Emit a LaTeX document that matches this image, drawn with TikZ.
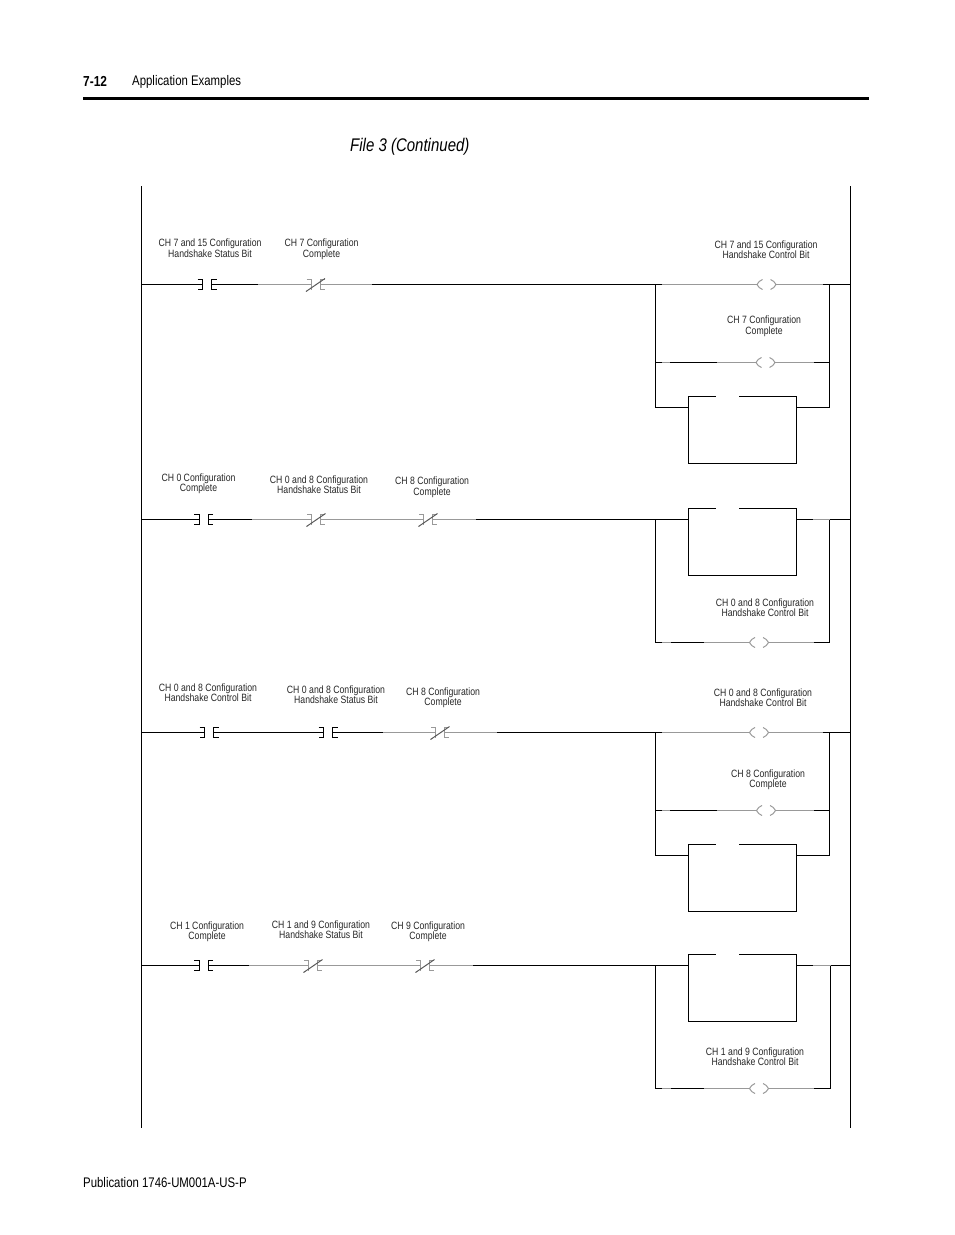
\documentclass[tikz,border=0pt]{standalone}
\usepackage{fontspec}
\setmainfont[FakeStretch=0.82]{Liberation Sans}
\usepackage{tikz}
\usetikzlibrary{positioning}
\definecolor{faint}{gray}{0.6}
\definecolor{midgrey}{gray}{0.35}
\tikzset{
  wire/.style={draw=black,line width=1pt},
  gwire/.style={draw=faint,line width=1pt},
  lbl/.style={align=center,inner sep=0pt,text=black!85,font=\fontsize{10.6}{10.5}\selectfont},
  nocontact/.pic={
    \coordinate (-in) at (-4.5,0);
    \coordinate (-out) at (4.5,0);
    \draw[wire] (-9.5,-5) -- (-4.5,-5) -- (-4.5,5) -- (-9.5,5);
    \draw[wire] (9.5,-5) -- (4.5,-5) -- (4.5,5) -- (9.5,5);
  },
  nccontact/.pic={
    \coordinate (-in) at (-4.5,0);
    \coordinate (-out) at (4.5,0);
    \draw[gwire] (-9,-5) -- (-4.5,-5) -- (-4.5,5) (9,-5) -- (4.5,-5) -- (4.5,5) -- (9,5);
    \draw[midgrey,line width=1pt] (-9.5,7) -- (9.5,-6);
  },
  coil/.pic={
    \coordinate (-in) at (-9.5,0);
    \coordinate (-out) at (9.5,0);
    \draw[gwire] (-4,-5) to[bend right=20] (-9.5,0) to[bend right=20] (-4,5);
    \draw[gwire] (4,-5) to[bend left=20] (9.5,0) to[bend left=20] (4,5);
  },
  funcbox/.pic={
    \coordinate (-in) at (-54,11);
    \coordinate (-out) at (54,11);
    \draw[wire] (-27,0) -- (-54,0) -- (-54,67) -- (54,67) -- (54,0) -- (-4,0);
  }
}
\begin{document}
\begin{tikzpicture}[x=1pt,y=-1pt]
  \useasboundingbox (0,0) rectangle (954,1235);
  % page head and foot
  \coordinate (headl) at (83,98);
  \coordinate (headr) at (869,98);
  \draw[line width=3pt] (headl) -- (headr);
  \node[inner sep=0pt,anchor=west,font=\fontsize{14.5}{15}\selectfont\bfseries] (pagenum) at (83,81) {7-12};
  \node[inner sep=0pt,anchor=west,font=\fontsize{13.9}{15}\selectfont] (chapter) at (132,81.5) {Application Examples};
  \node[inner sep=0pt,anchor=west,font=\fontsize{18.3}{20}\selectfont\itshape] (filetitle) at (350,146.5) {File 3 (Continued)};
  \node[inner sep=0pt,anchor=west,font=\fontsize{13.9}{15}\selectfont] (pubno) at (83,1182.5) {Publication 1746-UM001A-US-P};
  % rails
  \coordinate (ltop) at (141.5,186);
  \coordinate (lbot) at (141.5,1128);
  \coordinate (rtop) at (850.5,186);
  \coordinate (rbot) at (850.5,1128);
  \draw[wire] (ltop) -- (lbot);
  \draw[wire] (rtop) -- (rbot);

  % first rung
  \coordinate (l1) at (141.5,284.5);
  \coordinate (r1) at (850.5,284.5);
  \pic (c1a) at (207,284.5) {nocontact};
  \pic (c1b) at (315.5,284.5) {nccontact};
  \pic (q1a) at (766.5,284.5) {coil};
  \pic (q1b) at (765.5,362.5) {coil};
  \pic (b1) at (742.5,396.5) {funcbox};
  \coordinate (m1a) at (258,284.5);
  \coordinate (m1b) at (372,284.5);
  \coordinate (m1c) at (662,284.5);
  \coordinate (m1d) at (823,284.5);
  \coordinate (j1a) at (655.5,284.5);
  \coordinate (j1b) at (829.5,284.5);
  \coordinate (j1c) at (655.5,362.5);
  \coordinate (j1d) at (829.5,362.5);
  \coordinate (j1e) at (655.5,407.5);
  \coordinate (j1f) at (829.5,407.5);
  \coordinate (n1a) at (662,362.5);
  \coordinate (n1b) at (670,362.5);
  \coordinate (n1c) at (717,362.5);
  \coordinate (n1d) at (814,362.5);
  \draw[wire] (l1) -- (c1a-in) (c1a-out) -- (m1a) (m1b) -- (m1c) (m1d) -- (r1);
  \draw[gwire] (m1a) -- (c1b-in) (c1b-out) -- (m1b) (m1c) -- (q1a-in) (q1a-out) -- (m1d);
  \draw[wire] (j1a) -- (j1e) -- (b1-in) (j1b) -- (j1f) -- (b1-out);
  \draw[wire] (j1c) -- (n1a) (n1b) -- (n1c) (n1d) -- (j1d);
  \draw[gwire] (n1a) -- (n1b) (n1c) -- (q1b-in) (q1b-out) -- (n1d);
  \node[lbl] (t1a) at (210,248) {CH 7 and 15 Configuration\\Handshake Status Bit};
  \node[lbl] (t1b) at (321.5,249.5) {CH 7 Configuration\\Complete};
  \node[lbl] (t1c) at (766,249.5) {CH 7 and 15 Configuration\\Handshake Control Bit};
  \node[lbl] (t1d) at (764,326.5) {CH 7 Configuration\\Complete};

  % second rung
  \coordinate (l2) at (141.5,519.5);
  \coordinate (r2) at (850.5,519.5);
  \pic (c2a) at (203.5,519.5) {nocontact};
  \pic (c2b) at (316,519.5) {nccontact};
  \pic (c2c) at (428,519.5) {nccontact};
  \pic (b2) at (742.5,508.5) {funcbox};
  \pic (q2a) at (759,642.5) {coil};
  \coordinate (m2a) at (252,519.5);
  \coordinate (m2b) at (476,519.5);
  \coordinate (m2c) at (813,519.5);
  \coordinate (j2a) at (655.5,519.5);
  \coordinate (j2b) at (829.5,519.5);
  \coordinate (j2c) at (655.5,642.5);
  \coordinate (j2d) at (829.5,642.5);
  \coordinate (n2a) at (662,642.5);
  \coordinate (n2b) at (671,642.5);
  \coordinate (n2c) at (704,642.5);
  \coordinate (n2d) at (814,642.5);
  \draw[wire] (l2) -- (c2a-in) (c2a-out) -- (m2a) (m2b) -- (b2-in) (b2-out) -- (m2c) (j2b) -- (r2);
  \draw[gwire] (m2a) -- (c2b-in) (c2b-out) -- (c2c-in) (c2c-out) -- (m2b) (m2c) -- (j2b);
  \draw[wire] (j2a) -- (j2c) -- (n2a) (n2b) -- (n2c) (n2d) -- (j2d) -- (j2b);
  \draw[gwire] (n2a) -- (n2b) (n2c) -- (q2a-in) (q2a-out) -- (n2d);
  \node[lbl] (t2a) at (198.5,484) {CH 0 Configuration\\Complete};
  \node[lbl] (t2b) at (319,484.5) {CH 0 and 8 Configuration\\Handshake Status Bit};
  \node[lbl] (t2c) at (432,487.5) {CH 8 Configuration\\Complete};
  \node[lbl] (t2d) at (765,607.5) {CH 0 and 8 Configuration\\Handshake Control Bit};

  % third rung
  \coordinate (l3) at (141.5,732.5);
  \coordinate (r3) at (850.5,732.5);
  \pic (c3a) at (209,732.5) {nocontact};
  \pic (c3b) at (328,732.5) {nocontact};
  \pic (c3c) at (440,732.5) {nccontact};
  \pic (q3a) at (759,732.5) {coil};
  \pic (q3b) at (766,810.5) {coil};
  \pic (b3) at (742.5,844.5) {funcbox};
  \coordinate (m3a) at (383,732.5);
  \coordinate (m3b) at (497,732.5);
  \coordinate (m3c) at (662,732.5);
  \coordinate (m3d) at (823,732.5);
  \coordinate (j3a) at (655.5,732.5);
  \coordinate (j3b) at (829.5,732.5);
  \coordinate (j3c) at (655.5,810.5);
  \coordinate (j3d) at (829.5,810.5);
  \coordinate (j3e) at (655.5,855.5);
  \coordinate (j3f) at (829.5,855.5);
  \coordinate (n3a) at (662,810.5);
  \coordinate (n3b) at (670,810.5);
  \coordinate (n3c) at (717,810.5);
  \coordinate (n3d) at (814,810.5);
  \draw[wire] (l3) -- (c3a-in) (c3a-out) -- (c3b-in) (c3b-out) -- (m3a) (m3b) -- (m3c) (m3d) -- (r3);
  \draw[gwire] (m3a) -- (c3c-in) (c3c-out) -- (m3b) (m3c) -- (q3a-in) (q3a-out) -- (m3d);
  \draw[wire] (j3a) -- (j3e) -- (b3-in) (j3b) -- (j3f) -- (b3-out);
  \draw[wire] (j3c) -- (n3a) (n3b) -- (n3c) (n3d) -- (j3d);
  \draw[gwire] (n3a) -- (n3b) (n3c) -- (q3b-in) (q3b-out) -- (n3d);
  \node[lbl] (t3a) at (208,692.5) {CH 0 and 8 Configuration\\Handshake Control Bit};
  \node[lbl] (t3b) at (336,694.5) {CH 0 and 8 Configuration\\Handshake Status Bit};
  \node[lbl] (t3c) at (443,697.5) {CH 8 Configuration\\Complete};
  \node[lbl] (t3d) at (763,697.5) {CH 0 and 8 Configuration\\Handshake Control Bit};
  \node[lbl] (t3e) at (768,779.5) {CH 8 Configuration\\Complete};

  % fourth rung
  \coordinate (l4) at (141.5,965.5);
  \coordinate (r4) at (850.5,965.5);
  \pic (c4a) at (203.5,965.5) {nocontact};
  \pic (c4b) at (313,965.5) {nccontact};
  \pic (c4c) at (425,965.5) {nccontact};
  \pic (b4) at (742.5,954.5) {funcbox};
  \pic (q4a) at (759,1088.5) {coil};
  \coordinate (m4a) at (249,965.5);
  \coordinate (m4b) at (473,965.5);
  \coordinate (m4c) at (813,965.5);
  \coordinate (j4a) at (655.5,965.5);
  \coordinate (j4b) at (830.5,965.5);
  \coordinate (j4c) at (655.5,1088.5);
  \coordinate (j4d) at (830.5,1088.5);
  \coordinate (n4a) at (662,1088.5);
  \coordinate (n4b) at (671,1088.5);
  \coordinate (n4c) at (704,1088.5);
  \coordinate (n4d) at (814,1088.5);
  \draw[wire] (l4) -- (c4a-in) (c4a-out) -- (m4a) (m4b) -- (b4-in) (b4-out) -- (m4c) (j4b) -- (r4);
  \draw[gwire] (m4a) -- (c4b-in) (c4b-out) -- (c4c-in) (c4c-out) -- (m4b) (m4c) -- (j4b);
  \draw[wire] (j4a) -- (j4c) -- (n4a) (n4b) -- (n4c) (n4d) -- (j4d) -- (j4b);
  \draw[gwire] (n4a) -- (n4b) (n4c) -- (q4a-in) (q4a-out) -- (n4d);
  \node[lbl] (t4a) at (207,931.5) {CH 1 Configuration\\Complete};
  \node[lbl] (t4b) at (321,929.5) {CH 1 and 9 Configuration\\Handshake Status Bit};
  \node[lbl] (t4c) at (428,931.5) {CH 9 Configuration\\Complete};
  \node[lbl] (t4d) at (755,1056.5) {CH 1 and 9 Configuration\\Handshake Control Bit};
\end{tikzpicture}
\end{document}
